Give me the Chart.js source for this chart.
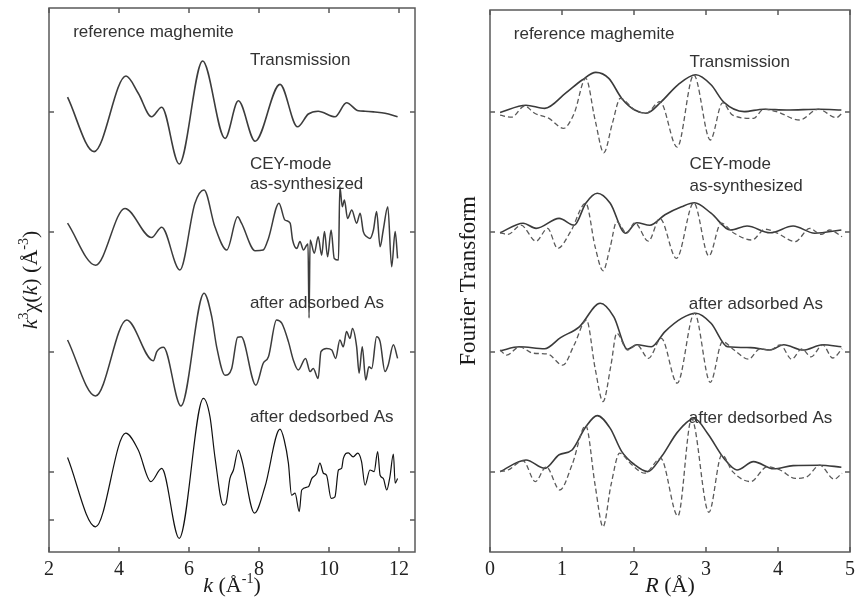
<!DOCTYPE html>
<html>
<head>
<meta charset="utf-8">
<script src="https://cdn.jsdelivr.net/npm/chart.js"></script>
<style>
  html, body { margin: 0; padding: 0; background: #fff; }
  #wrap { position: relative; width: 861px; height: 602px; }
  canvas { position: absolute; top: 0; }
  #exafs { left: 0; }
  #ft { left: 440px; }
</style>
</head>
<body>
<div id="wrap">
  <canvas id="exafs" width="440" height="602"></canvas>
  <canvas id="ft" width="421" height="602"></canvas>
</div>
<script>
/* k-space EXAFS (left) and its Fourier transform (right), four stacked spectra each */

// ---- k^3 chi(k) curves (values relative to each curve's own baseline) ----
const kTrans   = [2.53, 3.29, 4.2, 4.55, 4.93, 5.22, 5.72, 6.39, 7.03, 7.41, 7.89, 8.6, 9.1, 9.41, 9.69, 10.17, 10.5, 10.84, 11.03, 11.31, 11.6, 11.96];
const chiTrans = [0.37, -0.99, 0.9, 0.47, -0.12, 0.12, -1.3, 1.275, -0.66, 0.28, -0.73, 0.69, -0.37, -0.05, 0.02, -0.12, 0.23, 0.03, 0.02, 0, -0.03, -0.12];

const kCey   = [2.53, 3.33, 4.17, 4.93, 5.22, 5.74, 6.17, 6.43, 6.74, 7.08, 7.39, 7.5, 7.89, 8.12, 8.27, 8.57, 8.74, 8.89, 8.96, 9.08, 9.17, 9.27, 9.36, 9.40, 9.43, 9.46, 9.58, 9.69, 9.79, 9.87, 9.96, 10.06, 10.15, 10.27, 10.31, 10.38, 10.44, 10.53, 10.65, 10.79, 10.89, 10.98, 11.08, 11.17, 11.27, 11.36, 11.46, 11.55, 11.68, 11.79, 11.89, 11.96];
const chiCey = [0.22, -0.83, 0.59, -0.14, 0.12, -0.95, 0.72, 1.05, 0.13, -0.45, 0.38, 0.22, -0.47, -0.45, -0.16, 0.72, 0.3, 0.22, -0.2, -0.41, -0.24, -0.45, -0.33, -0.3, -2.15, -0.2, -0.53, -0.12, -0.58, 0.01, -0.62, 0.05, -0.66, -0.7, 1.13, 0.63, 0.8, 0.34, 0.55, 0.22, 0.47, 0.01, -0.12, -0.16, 0.05, 0.51, -0.37, 0.05, 0.63, -0.87, 0.01, -0.66];

const kAds   = [2.53, 3.33, 4.22, 4.98, 5.08, 5.27, 5.77, 6.43, 6.65, 6.79, 7.03, 7.22, 7.39, 7.49, 7.91, 8.12, 8.27, 8.5, 8.65, 8.84, 8.98, 9.12, 9.33, 9.46, 9.55, 9.69, 9.77, 9.93, 10.08, 10.19, 10.31, 10.41, 10.5, 10.6, 10.67, 10.79, 10.86, 10.95, 11.05, 11.14, 11.22, 11.36, 11.46, 11.6, 11.69, 11.84, 11.96];
const chiAds = [0.3, -1.1, 0.8, -0.22, 0.01, 0.12, -1.35, 1.47, 0.88, 0.13, -0.58, -0.41, 0.37, 0.38, -0.83, -0.28, -0.12, 0.8, 0.72, 0.26, -0.2, -0.45, -0.16, -0.49, -0.41, -0.66, 0.01, 0.09, 0.05, -0.16, 0.3, 0.13, 0.51, 0.34, 0.59, 0.13, -0.53, 0.13, -0.7, -0.37, -0.41, 0.38, 0.26, -0.49, -0.33, 0.18, -0.16];

const kDes   = [2.53, 3.33, 4.19, 4.55, 4.91, 5.22, 5.72, 6.41, 6.6, 6.74, 6.98, 7.05, 7.17, 7.27, 7.41, 7.51, 7.87, 8.17, 8.6, 8.72, 8.84, 8.93, 9.03, 9.15, 9.22, 9.41, 9.51, 9.65, 9.74, 9.84, 9.93, 10.06, 10.17, 10.27, 10.36, 10.41, 10.55, 10.69, 10.82, 10.93, 11.03, 11.17, 11.29, 11.39, 11.46, 11.55, 11.65, 11.74, 11.84, 11.89, 11.96];
const chiDes = [0.36, -1.37, 0.97, 0.55, -0.24, 0.09, -1.66, 1.84, 1.38, 0.38, -0.83, -0.8, -0.16, 0.05, 0.55, 0.3, -1.03, -0.37, 1.07, 0.8, 0.22, -0.58, -0.53, -0.99, -0.45, -0.37, -0.16, -0.03, 0.22, -0.03, -0.08, -0.66, -0.62, 0.05, 0.09, 0.34, 0.48, 0.38, 0.47, 0.26, -0.33, 0.05, 0.01, 0.51, -0.08, -0.16, -0.45, -0.12, 0.45, -0.28, -0.16];

// ---- Fourier transform: magnitude (solid) and real part (dashed) ----
const rTransMag = [0.14, 0.5, 0.76, 1.05, 1.28, 1.47, 1.65, 1.83, 2.01, 2.17, 2.38, 2.61, 2.86, 3.07, 3.25, 3.53, 3.8, 4.12, 4.58, 4.88];
const transMag  = [-0.01, 0.17, 0.09, 0.47, 0.8, 0.99, 0.84, 0.34, 0.05, -0.03, 0.26, 0.68, 0.93, 0.68, 0.24, 0.01, 0.07, 0.05, 0.07, 0.05];
const rTransRe  = [0.14, 0.3, 0.48, 0.62, 0.82, 1.02, 1.17, 1.33, 1.46, 1.58, 1.7, 1.81, 2.01, 2.17, 2.36, 2.6, 2.83, 3.06, 3.23, 3.37, 3.66, 3.8, 3.98, 4.3, 4.56, 4.81, 4.89];
const transRe   = [-0.08, -0.13, 0.15, -0.03, -0.16, -0.41, -0.03, 0.84, -0.2, -1.02, -0.28, 0.34, 0.05, -0.03, 0.26, -0.88, 0.93, -0.7, 0.23, -0.08, -0.16, 0.07, 0.01, -0.2, 0.07, -0.14, -0.03];

const rCeyMag = [0.14, 0.46, 0.64, 0.96, 1.17, 1.33, 1.49, 1.67, 1.88, 2.04, 2.22, 2.43, 2.66, 2.84, 3.07, 3.34, 3.57, 3.89, 4.21, 4.51, 4.88];
const ceyMag  = [-0.02, 0.22, 0.09, 0.34, 0.17, 0.72, 0.97, 0.72, -0.03, 0.23, 0.17, 0.43, 0.63, 0.73, 0.47, 0.05, 0.15, -0.02, 0.15, -0.03, 0.05];
const rCeyRe  = [0.14, 0.25, 0.43, 0.64, 0.8, 0.94, 1.12, 1.33, 1.46, 1.57, 1.67, 1.76, 1.9, 2.01, 2.2, 2.36, 2.59, 2.83, 3.04, 3.21, 3.39, 3.64, 3.82, 3.98, 4.24, 4.44, 4.6, 4.72, 4.89];
const ceyRe   = [-0.02, -0.06, 0.17, -0.23, 0.09, -0.41, 0.01, 0.72, -0.37, -0.97, -0.37, 0.26, -0.03, 0.23, -0.23, 0.34, -0.66, 0.73, -0.6, 0.22, -0.03, -0.2, 0.07, -0.02, -0.24, 0.09, -0.06, 0.05, -0.12];

const rAdsMag = [0.14, 0.41, 0.76, 0.98, 1.24, 1.53, 1.72, 1.91, 2.04, 2.24, 2.43, 2.66, 2.86, 3.07, 3.3, 3.62, 3.89, 4.08, 4.35, 4.62, 4.88];
const adsMag  = [0.03, 0.13, 0.08, 0.36, 0.63, 1.22, 0.88, 0.07, 0.18, 0.13, 0.51, 0.84, 0.97, 0.72, 0.13, 0.11, 0.05, 0.18, 0.05, 0.18, 0.13];
const rAdsRe  = [0.14, 0.23, 0.41, 0.6, 0.8, 1.01, 1.17, 1.34, 1.46, 1.57, 1.68, 1.76, 1.91, 2.04, 2.2, 2.38, 2.6, 2.84, 3.06, 3.23, 3.39, 3.59, 3.75, 3.89, 4.03, 4.19, 4.33, 4.46, 4.62, 4.76, 4.89];
const adsRe   = [0.05, -0.08, 0.13, -0.03, -0.05, -0.33, 0.18, 0.8, -0.41, -1.24, -0.33, 0.47, 0.05, 0.18, -0.16, 0.34, -0.78, 0.97, -0.76, 0.26, 0.05, -0.18, 0.08, 0.05, 0.18, -0.18, 0.08, -0.12, 0.18, -0.15, 0.08];

const rDesMag = [0.14, 0.5, 0.76, 0.96, 1.14, 1.33, 1.49, 1.67, 1.83, 2.01, 2.19, 2.38, 2.61, 2.84, 3.02, 3.25, 3.43, 3.66, 3.94, 4.21, 4.58, 4.88];
const desMag  = [0.01, 0.3, 0.09, 0.43, 0.55, 1.13, 1.41, 1.09, 0.51, 0.18, 0.01, 0.38, 1.01, 1.33, 0.97, 0.34, 0.05, 0.26, 0.08, 0.16, 0.17, 0.12];
const rDesRe  = [0.14, 0.25, 0.46, 0.63, 0.78, 0.97, 1.14, 1.33, 1.46, 1.57, 1.68, 1.8, 1.97, 2.15, 2.37, 2.61, 2.8, 3.04, 3.22, 3.37, 3.62, 3.85, 4.03, 4.24, 4.4, 4.58, 4.78, 4.89];
const desRe   = [0.01, 0.05, 0.28, -0.24, 0.13, -0.45, 0.18, 1.16, -0.33, -1.37, -0.33, 0.47, 0.18, -0.03, 0.34, -1.1, 1.33, -1.01, 0.43, 0.01, -0.24, 0.13, 0.05, -0.16, -0.12, 0.17, -0.18, -0.03];

// vertical stacking offsets (top to bottom) and axis ticks
const offsets   = [9, 6, 3, 0];
const kTicks    = [2, 4, 6, 8, 10, 12];
const rTicks    = [0, 1, 2, 3, 4, 5];
const yTicksK   = [-1.2, 0, 3, 6, 9];
const yTicksR   = [0, 3, 6, 9];
const curveNames = ["reference maghemite", "Transmission", "CEY-mode", "as-synthesized", "after adsorbed As", "after dedsorbed As"];

const serif = "'Liberation Serif', 'Times New Roman', serif";
const sans  = "'Liberation Sans', Arial, sans-serif";

function pts(xs, vs, off) {
  return xs.map((x, i) => ({ x: x, y: vs[i] + off }));
}

function line(data, color, width, dash) {
  return {
    data: data,
    borderColor: color,
    borderWidth: width,
    borderDash: dash || [],
    pointRadius: 0,
    fill: false,
    cubicInterpolationMode: "monotone"
  };
}

// text made of pieces with their own font / vertical shift
function drawRich(ctx, parts, cx, cy, rotated) {
  ctx.save();
  ctx.translate(cx, cy);
  if (rotated) ctx.rotate(-Math.PI / 2);
  let w = 0;
  parts.forEach(p => { ctx.font = p.font; w += ctx.measureText(p.t).width; });
  let x = -w / 2;
  ctx.textAlign = "left";
  ctx.textBaseline = "alphabetic";
  ctx.fillStyle = "#1a1a1a";
  parts.forEach(p => {
    ctx.font = p.font;
    ctx.fillText(p.t, x, 7 - (p.up || 0));
    x += ctx.measureText(p.t).width;
  });
  ctx.restore();
}

const frame = {
  id: "frame",
  afterDraw(chart, args, o) {
    const { ctx, chartArea: a, scales: { x, y } } = chart;
    ctx.save();
    ctx.strokeStyle = "#5a5a5a";
    ctx.lineWidth = 1.5;
    ctx.strokeRect(a.left, a.top, a.right - a.left, a.bottom - a.top);
    ctx.beginPath();
    x.ticks.forEach(t => {
      const px = x.getPixelForValue(t.value);
      ctx.moveTo(px, a.top); ctx.lineTo(px, a.top + 5);
      ctx.moveTo(px, a.bottom); ctx.lineTo(px, a.bottom - 5);
    });
    o.yTicks.forEach(v => {
      const py = y.getPixelForValue(v);
      ctx.moveTo(a.left, py); ctx.lineTo(a.left + 5, py);
      ctx.moveTo(a.right, py); ctx.lineTo(a.right - 5, py);
    });
    ctx.stroke();

    ctx.fillStyle = "#333";
    ctx.font = "17px " + sans;
    ctx.textAlign = "left";
    ctx.textBaseline = "middle";
    o.labels.forEach(l => ctx.fillText(l.text, x.getPixelForValue(l.x), y.getPixelForValue(l.y)));
    ctx.restore();

    drawRich(ctx, o.xTitle, (a.left + a.right) / 2, 585, false);
    drawRich(ctx, o.yTitle, o.yTitleX, (a.top + a.bottom) / 2, true);
  }
};

function baseOptions(xMin, xMax, ticks, yMin, yMax, yWidth, pad) {
  return {
    responsive: false,
    animation: false,
    layout: { padding: pad },
    plugins: { legend: { display: false }, tooltip: { enabled: false } },
    scales: {
      x: {
        type: "linear", min: xMin, max: xMax,
        grid: { display: false, drawTicks: false },
        border: { display: false },
        afterBuildTicks: s => { s.ticks = ticks.map(v => ({ value: v })); },
        afterFit: s => { s.height = 50; },
        ticks: { padding: 6, color: "#222", font: { family: serif, size: 20 } }
      },
      y: {
        type: "linear", min: yMin, max: yMax,
        grid: { display: false, drawTicks: false },
        border: { display: false },
        ticks: { display: false },
        afterFit: s => { s.width = yWidth; }
      }
    }
  };
}

const big = "22px " + serif, bigI = "italic 22px " + serif, sup = "14px " + serif;

// ---- left: k-space ----
const optK = baseOptions(2, 12.457, kTicks, -2, 11.6, 49, { top: 8, right: 25, left: 0, bottom: 0 });
optK.plugins.frame = {
  yTicks: yTicksK,
  yTitleX: 30,
  labels: [
    { text: curveNames[0], x: 2.69, y: 11.0 },
    { text: curveNames[1], x: 7.74, y: 10.3 },
    { text: curveNames[2], x: 7.74, y: 7.7 },
    { text: curveNames[3], x: 7.74, y: 7.2 },
    { text: curveNames[4], x: 7.74, y: 4.22 },
    { text: curveNames[5], x: 7.74, y: 1.37 }
  ],
  xTitle: [{ t: "k", font: bigI }, { t: " (Å", font: big }, { t: "-1", font: sup, up: 9 }, { t: ")", font: big }],
  yTitle: [{ t: "k", font: bigI }, { t: "3", font: sup, up: 9 }, { t: "χ(", font: big }, { t: "k", font: bigI },
           { t: ") (Å", font: big }, { t: "-3", font: sup, up: 9 }, { t: ")", font: big }]
};

new Chart(document.getElementById("exafs"), {
  type: "line",
  data: {
    datasets: [
      line(pts(kTrans, chiTrans, offsets[0]), "#3c3c3c", 1.6),
      line(pts(kCey, chiCey, offsets[1]), "#3c3c3c", 1.5),
      line(pts(kAds, chiAds, offsets[2]), "#3c3c3c", 1.5),
      line(pts(kDes, chiDes, offsets[3]), "#111", 1.2)
    ]
  },
  options: optK,
  plugins: [frame]
});

// ---- right: R-space ----
const optR = baseOptions(0, 5, rTicks, -2, 11.55, 50, { top: 10, right: 6, left: 0, bottom: 0 });
optR.plugins.frame = {
  yTicks: yTicksR,
  yTitleX: 28,
  labels: [
    { text: curveNames[0], x: 0.33, y: 10.95 },
    { text: curveNames[1], x: 2.77, y: 10.25 },
    { text: curveNames[2], x: 2.77, y: 7.7 },
    { text: curveNames[3], x: 2.77, y: 7.15 },
    { text: curveNames[4], x: 2.76, y: 4.2 },
    { text: curveNames[5], x: 2.76, y: 1.35 }
  ],
  xTitle: [{ t: "R", font: bigI }, { t: " (Å)", font: big }],
  yTitle: [{ t: "Fourier Transform", font: "23px " + serif }]
};

const dash = [5, 3];
new Chart(document.getElementById("ft"), {
  type: "line",
  data: {
    datasets: [
      line(pts(rTransRe, transRe, offsets[0]), "#5a5a5a", 1.3, dash),
      line(pts(rTransMag, transMag, offsets[0]), "#3a3a3a", 1.6),
      line(pts(rCeyRe, ceyRe, offsets[1]), "#5a5a5a", 1.3, dash),
      line(pts(rCeyMag, ceyMag, offsets[1]), "#3a3a3a", 1.6),
      line(pts(rAdsRe, adsRe, offsets[2]), "#5a5a5a", 1.3, dash),
      line(pts(rAdsMag, adsMag, offsets[2]), "#3a3a3a", 1.6),
      line(pts(rDesRe, desRe, offsets[3]), "#5a5a5a", 1.3, dash),
      line(pts(rDesMag, desMag, offsets[3]), "#3a3a3a", 1.6)
    ]
  },
  options: optR,
  plugins: [frame]
});
</script>
</body>
</html>
